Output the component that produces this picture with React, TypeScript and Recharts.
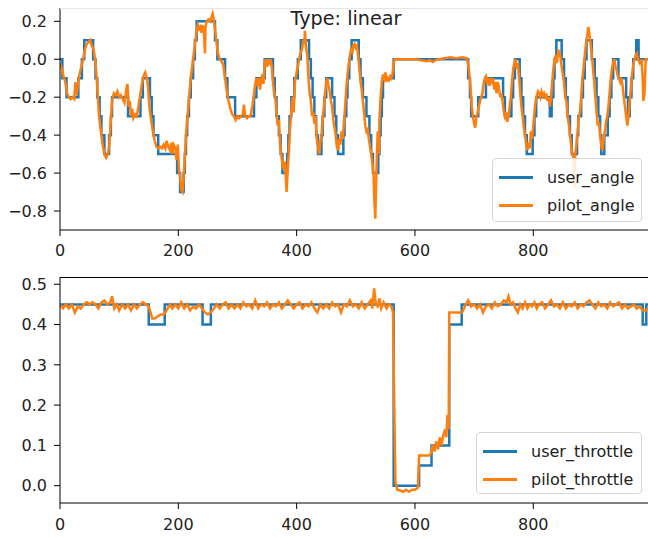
import React from 'react';
import { LineChart, Line, XAxis, YAxis } from 'recharts';

// steering: [index, value]
const userAngle: number[][] = [
  [0, 0], [4, -0.1], [11, -0.2], [31, -0.1], [37, 0], [41, 0.1], [56, 0], [60, -0.1], [63, -0.2],
  [67, -0.3], [70, -0.4], [75, -0.5], [83, -0.4], [86, -0.3], [88, -0.2], [115, -0.3], [136, -0.2],
  [140, -0.1], [152, -0.2], [155, -0.3], [158, -0.4], [166, -0.5], [198, -0.6], [203, -0.7],
  [209, -0.6], [211, -0.5], [213, -0.4], [215, -0.3], [218, -0.2], [221, -0.1], [225, 0], [228, 0.1],
  [231, 0.2], [262, 0.1], [266, 0], [279, -0.1], [283, -0.2], [296, -0.3], [328, -0.2], [332, -0.1],
  [346, 0], [360, -0.1], [363, -0.2], [366, -0.3], [370, -0.4], [373, -0.5], [376, -0.6], [384, -0.5],
  [386, -0.4], [388, -0.3], [391, -0.2], [396, -0.1], [402, 0], [407, 0.1], [421, 0], [424, -0.1],
  [427, -0.2], [430, -0.3], [433, -0.4], [436, -0.5], [442, -0.4], [444, -0.3], [447, -0.2],
  [450, -0.1], [460, -0.2], [464, -0.3], [467, -0.4], [470, -0.5], [479, -0.4], [481, -0.3],
  [484, -0.2], [486, -0.1], [489, 0], [493, 0.1], [505, 0], [508, -0.1], [512, -0.2], [518, -0.3],
  [523, -0.4], [526, -0.5], [529, -0.6], [538, -0.5], [540, -0.4], [542, -0.3], [544, -0.2],
  [546, -0.1], [564, 0], [690, -0.1], [693, -0.2], [695, -0.3], [707, -0.2], [720, -0.1], [749, -0.2],
  [752, -0.3], [763, -0.2], [766, -0.1], [769, 0], [777, -0.1], [780, -0.2], [783, -0.3], [786, -0.4],
  [789, -0.5], [799, -0.4], [802, -0.3], [805, -0.2], [828, -0.3], [831, -0.2], [834, -0.1], [836, 0],
  [839, 0.1], [848, 0], [852, -0.1], [855, -0.2], [858, -0.3], [862, -0.4], [865, -0.5], [874, -0.4],
  [876, -0.3], [881, -0.2], [884, -0.1], [887, 0], [890, 0.1], [899, 0], [904, -0.1], [907, -0.2],
  [910, -0.3], [913, -0.4], [915, -0.5], [920, -0.4], [926, -0.3], [929, -0.2], [932, -0.1], [935, 0],
  [944, -0.1], [957, -0.2], [960, -0.3], [963, -0.2], [966, -0.1], [969, 0], [974, 0.1], [978, 0],
  [999, 0],
];

const pilotAngle: number[][] = [
  [0, -0.02], [3, -0.05], [6, -0.09], [9, -0.12], [12, -0.18], [15, -0.2], [18, -0.21], [21, -0.2],
  [24, -0.21], [26, -0.12], [28, -0.19], [30, -0.14], [33, -0.08], [36, -0.04], [39, 0], [42, 0.05],
  [45, 0.08], [48, 0.09], [51, 0.1], [54, 0.07], [57, 0.05], [60, -0.02], [62, -0.1], [64, -0.2],
  [66, -0.3], [69, -0.38], [72, -0.45], [75, -0.5], [78, -0.52], [81, -0.5], [83, -0.46], [86, -0.32],
  [88, -0.22], [91, -0.18], [94, -0.19], [97, -0.17], [100, -0.2], [103, -0.19], [106, -0.21],
  [109, -0.23], [112, -0.16], [114, -0.13], [116, -0.25], [118, -0.22], [120, -0.3], [122, -0.26],
  [124, -0.31], [127, -0.29], [130, -0.3], [132, -0.26], [135, -0.2], [138, -0.14], [141, -0.09],
  [144, -0.07], [147, -0.1], [149, -0.15], [151, -0.25], [154, -0.32], [157, -0.38], [160, -0.43],
  [163, -0.46], [166, -0.47], [169, -0.46], [172, -0.47], [175, -0.45], [178, -0.47], [180, -0.43],
  [183, -0.46], [186, -0.48], [188, -0.44], [190, -0.5], [192, -0.45], [195, -0.47], [197, -0.53],
  [199, -0.45], [201, -0.58], [203, -0.62], [205, -0.69], [207, -0.7], [209, -0.62], [211, -0.52],
  [213, -0.4], [215, -0.32], [217, -0.25], [219, -0.17], [221, -0.1], [223, -0.05], [225, 0],
  [227, 0.05], [229, 0.1], [231, 0.15], [233, 0.18], [235, 0.16], [237, 0.17], [239, 0.14],
  [241, 0.18], [243, 0.16], [245, 0.03], [246, 0.17], [248, 0.2], [251, 0.21], [254, 0.2],
  [256, 0.22], [258, 0.24], [260, 0.21], [262, 0.16], [264, 0.1], [267, 0.03], [270, 0], [273, -0.01],
  [276, -0.03], [279, -0.1], [282, -0.17], [285, -0.22], [288, -0.26], [291, -0.29], [294, -0.3],
  [297, -0.32], [300, -0.3], [303, -0.31], [306, -0.3], [309, -0.29], [311, -0.24], [313, -0.3],
  [316, -0.31], [319, -0.3], [322, -0.3], [325, -0.25], [328, -0.18], [330, -0.13], [332, -0.1],
  [334, -0.14], [336, -0.1], [338, -0.16], [340, -0.12], [342, -0.08], [344, -0.13], [346, -0.02],
  [348, 0], [350, -0.04], [352, 0], [354, -0.03], [356, 0], [358, -0.04], [360, -0.12], [362, -0.18],
  [364, -0.2], [366, -0.28], [368, -0.35], [370, -0.32], [372, -0.45], [374, -0.5], [376, -0.56],
  [378, -0.58], [380, -0.54], [382, -0.64], [383, -0.7], [385, -0.58], [387, -0.48], [389, -0.36],
  [391, -0.27], [393, -0.2], [395, -0.28], [397, -0.12], [400, -0.07], [403, -0.02], [406, 0.03],
  [409, 0.05], [411, 0.1], [413, 0.08], [414, 0.15], [416, 0.06], [418, 0.02], [420, -0.1],
  [422, -0.18], [424, -0.22], [426, -0.3], [428, -0.28], [430, -0.34], [432, -0.3], [434, -0.42],
  [436, -0.46], [438, -0.5], [440, -0.44], [442, -0.4], [444, -0.32], [446, -0.25], [448, -0.18],
  [450, -0.12], [452, -0.1], [454, -0.14], [456, -0.17], [458, -0.22], [460, -0.25], [462, -0.32],
  [464, -0.36], [466, -0.4], [468, -0.46], [470, -0.48], [472, -0.42], [474, -0.45], [476, -0.38],
  [478, -0.42], [480, -0.33], [482, -0.25], [484, -0.15], [486, -0.08], [488, -0.03], [490, 0.02],
  [492, 0.05], [494, 0.03], [496, 0.07], [498, 0.08], [500, 0.06], [502, 0.07], [504, 0.02],
  [506, -0.05], [508, -0.12], [510, -0.16], [512, -0.22], [514, -0.28], [516, -0.35], [518, -0.38],
  [520, -0.37], [522, -0.42], [524, -0.46], [526, -0.5], [528, -0.55], [530, -0.6], [531, -0.72],
  [533, -0.84], [534, -0.7], [535, -0.58], [536, -0.48], [537, -0.38], [539, -0.5], [540, -0.32],
  [542, -0.2], [544, -0.12], [546, -0.08], [548, -0.1], [550, -0.07], [552, -0.12], [554, -0.1],
  [556, -0.11], [558, -0.09], [560, -0.1], [562, -0.08], [564, -0.02], [566, 0], [580, 0], [600, 0],
  [610, -0.005], [620, -0.01], [625, -0.005], [630, -0.015], [635, -0.005], [640, 0], [650, 0.005],
  [660, 0.01], [670, 0.005], [680, 0.01], [688, 0.005], [691, -0.05], [694, -0.15], [696, -0.25],
  [698, -0.3], [700, -0.34], [702, -0.36], [704, -0.3], [706, -0.28], [708, -0.25], [710, -0.22],
  [712, -0.2], [714, -0.18], [716, -0.13], [718, -0.1], [720, -0.09], [722, -0.12], [724, -0.1],
  [726, -0.14], [728, -0.11], [730, -0.12], [732, -0.1], [734, -0.16], [736, -0.12], [738, -0.18],
  [740, -0.12], [742, -0.15], [744, -0.2], [746, -0.18], [748, -0.22], [750, -0.27], [752, -0.3],
  [754, -0.28], [756, -0.33], [758, -0.3], [760, -0.25], [762, -0.2], [764, -0.12], [766, -0.05],
  [768, -0.02], [770, 0], [772, -0.05], [774, -0.02], [776, -0.1], [778, -0.18], [780, -0.25],
  [782, -0.3], [784, -0.36], [786, -0.4], [788, -0.45], [790, -0.48], [792, -0.44], [794, -0.47],
  [796, -0.38], [798, -0.42], [800, -0.35], [802, -0.28], [804, -0.22], [806, -0.19], [808, -0.17],
  [810, -0.18], [812, -0.2], [814, -0.17], [816, -0.19], [818, -0.18], [820, -0.21], [822, -0.18],
  [824, -0.22], [826, -0.2], [828, -0.25], [830, -0.2], [832, -0.12], [834, -0.05], [836, 0],
  [838, 0.02], [840, -0.02], [842, 0.05], [844, 0.03], [846, 0.01], [848, -0.04], [850, -0.08],
  [852, -0.12], [854, -0.2], [856, -0.22], [858, -0.3], [860, -0.34], [862, -0.4], [864, -0.45],
  [866, -0.5], [868, -0.52], [870, -0.68], [871, -0.5], [873, -0.45], [875, -0.38], [877, -0.3],
  [879, -0.28], [881, -0.2], [883, -0.1], [885, -0.05], [887, 0.02], [889, 0.08], [891, 0.12],
  [893, 0.17], [895, 0.13], [897, 0.08], [899, 0.02], [901, -0.05], [903, -0.12], [905, -0.2],
  [907, -0.28], [909, -0.35], [911, -0.33], [913, -0.4], [915, -0.46], [917, -0.48], [919, -0.42],
  [921, -0.38], [923, -0.33], [925, -0.3], [927, -0.25], [929, -0.18], [931, -0.1], [933, -0.05],
  [935, -0.02], [937, 0], [939, -0.04], [941, -0.06], [943, -0.09], [945, -0.1], [947, -0.12],
  [949, -0.1], [951, -0.14], [953, -0.2], [955, -0.25], [957, -0.3], [959, -0.35], [961, -0.3],
  [963, -0.22], [965, -0.15], [967, -0.08], [969, -0.03], [971, 0], [973, 0.02], [975, 0.03],
  [977, 0], [980, -0.02], [983, 0], [985, -0.1], [986, -0.22], [988, -0.18], [990, 0], [995, 0],
  [999, 0],
];

// throttle: [index, value]
const userThrottle: number[][] = [
  [0, 0.45], [150, 0.4], [177, 0.45], [241, 0.4], [255, 0.45], [564, 0], [607, 0.05], [628, 0.1],
  [658, 0.4], [679, 0.45], [985, 0.4], [991, 0.45], [999, 0.45],
];

const pilotThrottle: number[][] = [
  [0, 0.45], [5, 0.44], [10, 0.45], [15, 0.44], [20, 0.45], [25, 0.43], [30, 0.445], [35, 0.44],
  [40, 0.45], [45, 0.455], [50, 0.45], [55, 0.455], [60, 0.45], [65, 0.44], [70, 0.455], [75, 0.46],
  [80, 0.45], [85, 0.455], [88, 0.47], [92, 0.44], [96, 0.45], [100, 0.435], [105, 0.45], [110, 0.44],
  [115, 0.45], [120, 0.435], [125, 0.45], [130, 0.44], [135, 0.45], [140, 0.455], [145, 0.45],
  [150, 0.445], [153, 0.43], [156, 0.415], [160, 0.415], [165, 0.42], [170, 0.425], [175, 0.425],
  [178, 0.43], [182, 0.44], [186, 0.45], [190, 0.44], [195, 0.45], [200, 0.44], [205, 0.455],
  [210, 0.44], [215, 0.45], [220, 0.435], [225, 0.445], [230, 0.44], [235, 0.45], [240, 0.44],
  [245, 0.43], [250, 0.425], [255, 0.43], [260, 0.44], [265, 0.45], [270, 0.44], [275, 0.45],
  [280, 0.455], [285, 0.44], [290, 0.45], [295, 0.44], [300, 0.45], [305, 0.44], [310, 0.455],
  [315, 0.445], [320, 0.45], [325, 0.44], [330, 0.46], [335, 0.44], [340, 0.45], [345, 0.445],
  [350, 0.455], [355, 0.44], [360, 0.45], [365, 0.445], [370, 0.455], [375, 0.44], [380, 0.45],
  [385, 0.46], [390, 0.45], [395, 0.44], [400, 0.45], [405, 0.455], [410, 0.44], [415, 0.45],
  [420, 0.445], [425, 0.455], [430, 0.44], [435, 0.43], [440, 0.45], [445, 0.44], [450, 0.45],
  [455, 0.44], [460, 0.455], [465, 0.445], [470, 0.45], [475, 0.43], [480, 0.45], [485, 0.445],
  [490, 0.46], [495, 0.445], [500, 0.45], [505, 0.44], [510, 0.455], [515, 0.44], [520, 0.45],
  [525, 0.46], [528, 0.44], [531, 0.49], [534, 0.45], [537, 0.445], [540, 0.465], [543, 0.44],
  [547, 0.455], [552, 0.44], [556, 0.45], [560, 0.445], [563, 0.43], [565, 0.2], [567, 0.01],
  [570, -0.01], [575, -0.012], [580, -0.015], [585, -0.01], [590, -0.015], [595, -0.01], [600, -0.01],
  [605, -0.005], [607, 0.075], [612, 0.075], [618, 0.075], [624, 0.075], [627, 0.08], [630, 0.1],
  [633, 0.085], [636, 0.11], [639, 0.09], [642, 0.12], [645, 0.1], [648, 0.125], [651, 0.14],
  [653, 0.12], [655, 0.175], [657, 0.14], [658, 0.43], [665, 0.43], [672, 0.43], [679, 0.43],
  [683, 0.44], [686, 0.45], [690, 0.46], [695, 0.445], [700, 0.45], [705, 0.44], [710, 0.45],
  [715, 0.43], [720, 0.445], [725, 0.45], [730, 0.44], [735, 0.455], [740, 0.445], [745, 0.45],
  [750, 0.46], [755, 0.455], [758, 0.47], [762, 0.45], [766, 0.455], [770, 0.44], [774, 0.43],
  [778, 0.45], [782, 0.44], [786, 0.455], [790, 0.44], [794, 0.45], [798, 0.445], [802, 0.455],
  [806, 0.44], [810, 0.45], [815, 0.455], [820, 0.44], [825, 0.45], [830, 0.46], [835, 0.445],
  [840, 0.45], [845, 0.44], [850, 0.455], [855, 0.44], [860, 0.45], [865, 0.445], [870, 0.455],
  [875, 0.44], [880, 0.45], [885, 0.445], [890, 0.455], [895, 0.46], [900, 0.45], [905, 0.44],
  [910, 0.455], [915, 0.445], [920, 0.45], [925, 0.44], [930, 0.455], [935, 0.445], [940, 0.45],
  [945, 0.455], [950, 0.44], [955, 0.45], [960, 0.44], [965, 0.445], [970, 0.45], [975, 0.44],
  [980, 0.445], [985, 0.435], [990, 0.435], [995, 0.44], [999, 0.44],
];

const xTicks = [0, 200, 400, 600, 800];
const angleTicks = [-0.8, -0.6, -0.4, -0.2, 0, 0.2];
const throttleTicks = [0, 0.1, 0.2, 0.3, 0.4, 0.5];

const BLUE = '#1f77b4';
const ORANGE = '#ff7f0e';
const FONT = '"DejaVu Sans", sans-serif';

const toPts = (arr: number[][]) => arr.map(([x, y]) => ({ x, y }));
const fmt = (v: number) => (v < 0 ? '\u2212' + Math.abs(v).toFixed(1) : v.toFixed(1));
const tickStyle = { fontSize: 16, fill: '#222', fontFamily: FONT };

const LegendBox = ({ items, style }: { items: { name: string; color: string }[]; style: React.CSSProperties }) => (
  <div
    style={{
      position: 'absolute',
      boxSizing: 'border-box',
      border: '1px solid #d6d6d6',
      borderRadius: 4,
      background: 'rgba(255,255,255,0.85)',
      fontFamily: FONT,
      fontSize: 16,
      color: '#222',
      padding: '4px 6px',
      ...style,
    }}
  >
    {items.map((it) => (
      <div key={it.name} style={{ display: 'flex', alignItems: 'center', height: 28 }}>
        <span style={{ display: 'inline-block', width: 34, height: 3, background: it.color, marginRight: 14 }} />
        <span>{it.name}</span>
      </div>
    ))}
  </div>
);

export default function App() {
  return (
    <div style={{ position: 'absolute', left: 0, top: 0, width: 648, height: 538, overflow: 'hidden', background: '#fff' }}>
      <div style={{ position: 'absolute', left: 0, top: 0 }}>
        <LineChart width={660} height={260} margin={{ top: 8, right: 9, bottom: 0, left: 0 }}>
          <XAxis
            type="number"
            dataKey="x"
            domain={[0, 999]}
            ticks={xTicks}
            allowDataOverflow
            height={30}
            tick={tickStyle}
            tickSize={6}
            tickMargin={9}
            stroke="#000"
          />
          <YAxis
            type="number"
            dataKey="y"
            domain={[-0.9, 0.27]}
            ticks={angleTicks}
            allowDataOverflow
            width={60}
            tick={tickStyle}
            tickFormatter={fmt}
            tickSize={6}
            tickMargin={7}
            stroke="#000"
          />
          <Line data={toPts(userAngle)} dataKey="y" type="stepAfter" stroke={BLUE} strokeWidth={2.5} dot={false} isAnimationActive={false} />
          <Line data={toPts(pilotAngle)} dataKey="y" type="linear" stroke={ORANGE} strokeWidth={2.5} dot={false} isAnimationActive={false} />
        </LineChart>
      </div>
      <div style={{ position: 'absolute', left: 60, top: 8, width: 600, height: 1, background: '#e6e6e6' }} />
      <div style={{ position: 'absolute', left: 246, top: 7, width: 200, textAlign: 'center', fontFamily: FONT, fontSize: 19.2, color: '#222' }}>
        Type: linear
      </div>
      <LegendBox
        items={[{ name: 'user_angle', color: BLUE }, { name: 'pilot_angle', color: ORANGE }]}
        style={{ left: 492, top: 158, width: 150, height: 64 }}
      />

      <div style={{ position: 'absolute', left: 0, top: 260 }}>
        <LineChart width={660} height={278} margin={{ top: 17, right: 9, bottom: 0, left: 0 }}>
          <XAxis
            type="number"
            dataKey="x"
            domain={[0, 999]}
            ticks={xTicks}
            allowDataOverflow
            height={35}
            tick={tickStyle}
            tickSize={6}
            tickMargin={10}
            stroke="#000"
          />
          <YAxis
            type="number"
            dataKey="y"
            domain={[-0.043, 0.518]}
            ticks={throttleTicks}
            allowDataOverflow
            width={60}
            tick={tickStyle}
            tickFormatter={fmt}
            tickSize={6}
            tickMargin={7}
            stroke="#000"
          />
          <Line data={toPts(userThrottle)} dataKey="y" type="stepAfter" stroke={BLUE} strokeWidth={2.5} dot={false} isAnimationActive={false} />
          <Line data={toPts(pilotThrottle)} dataKey="y" type="linear" stroke={ORANGE} strokeWidth={2.5} dot={false} isAnimationActive={false} />
        </LineChart>
      </div>
      <div style={{ position: 'absolute', left: 60, top: 277, width: 600, height: 1, background: '#000' }} />
      <LegendBox
        items={[{ name: 'user_throttle', color: BLUE }, { name: 'pilot_throttle', color: ORANGE }]}
        style={{ left: 476, top: 432, width: 166, height: 62 }}
      />
    </div>
  );
}
